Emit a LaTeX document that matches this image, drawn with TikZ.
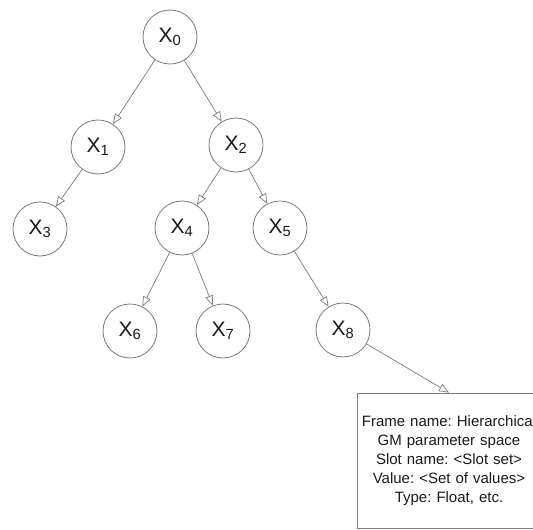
\documentclass[tikz,border=0pt]{standalone}
\usepackage{fontspec}
\setmainfont{Liberation Sans}
\usetikzlibrary{arrows.meta}
\definecolor{edgegray}{HTML}{7A7A7A}
\definecolor{textdark}{HTML}{1A1A1A}
\frenchspacing
\begin{document}
\begin{tikzpicture}[x=1pt,y=-1pt,
  var/.style={circle,draw=edgegray,line width=0.8pt,minimum size=54pt,inner sep=0pt,
    text=textdark,font=\fontsize{21}{24}\selectfont},
  edge/.style={draw=edgegray,line width=0.7pt,-{Triangle[open,length=10pt,width=8pt]}},
  frame/.style={rectangle,draw=edgegray,line width=0.8pt,minimum width=184pt,minimum height=135pt,
    inner sep=0pt,text width=184pt,align=center,text=textdark,font=\fontsize{15}{19}\selectfont}
]
\useasboundingbox (0,0) rectangle (533,530);
\clip (0,0) rectangle (533,530);
\node[var] (x0) at (170,37) {X\textsubscript{0}};
\node[var] (x1) at (98,147) {X\textsubscript{1}};
\node[var] (x2) at (236,145) {X\textsubscript{2}};
\node[var] (x3) at (40,229) {X\textsubscript{3}};
\node[var] (x4) at (182,228) {X\textsubscript{4}};
\node[var] (x5) at (280,228) {X\textsubscript{5}};
\node[var] (x6) at (130,331) {X\textsubscript{6}};
\node[var] (x7) at (223,331) {X\textsubscript{7}};
\node[var] (x8) at (343,330) {X\textsubscript{8}};
\node[frame] (box) at (449,460.5) {Frame name: Hierarchical\\GM parameter space\\Slot name: <Slot set>\\Value: <Set of values>\\Type: Float, etc.};
\draw[edge] (x0) -- (x1);
\draw[edge] (x0) -- (x2);
\draw[edge] (x1) -- (x3);
\draw[edge] (x2) -- (x4);
\draw[edge] (x2) -- (x5);
\draw[edge] (x4) -- (x6);
\draw[edge] (x4) -- (x7);
\draw[edge] (x5) -- (x8);
\draw[edge] (x8) -- (box.north);
\end{tikzpicture}
\end{document}
